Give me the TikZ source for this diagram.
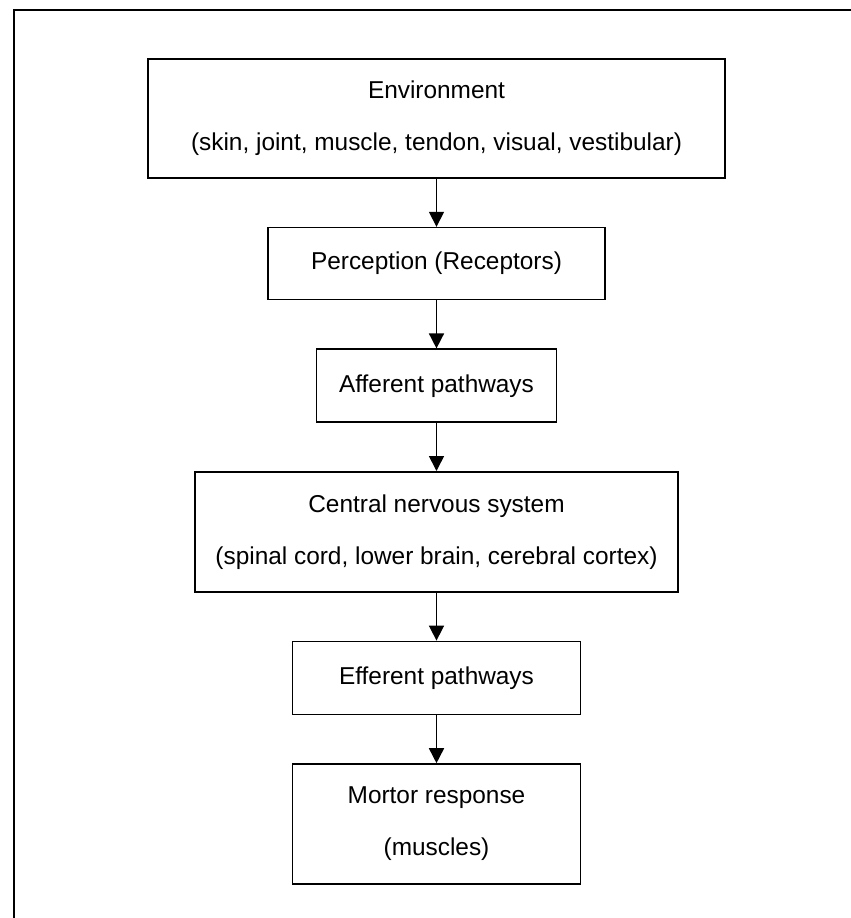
\documentclass[tikz,border=0pt]{standalone}
\usepackage{fontspec}
\setmainfont{Liberation Sans}
\usetikzlibrary{arrows.meta, positioning}
\tikzstyle{block} = [draw, rectangle, line width=0.8pt, inner sep=0pt, align=center, font=\fontsize{12.2}{26}\selectfont]
\tikzstyle{path} = [-{Triangle[length=7.5pt, width=7.5pt]}, line width=0.8pt]
\tikzstyle{frame} = [line width=1.3pt]

\begin{document}
\begin{tikzpicture}[x=0.5pt, y=-0.5pt, node distance=24pt]
    \useasboundingbox (0, 0) rectangle (851, 918);

    % Frame.
    \draw [frame] (14, 918) -- (14, 10) -- (851, 10);

    % Boxes.
    \node (node 1) [block, minimum width=288.5pt, minimum height=59.5pt] at (436.5, 118.5)
        {Environment\\(skin, joint, muscle, tendon, visual, vestibular)};
    \node (node 2) [block, minimum width=168.5pt, minimum height=36pt, below=of node 1]
        {Perception (Receptors)};
    \node (node 3) [block, minimum width=120pt, minimum height=36.5pt, below=of node 2]
        {Afferent pathways};
    \node (node 4) [block, minimum width=241.5pt, minimum height=60pt, below=of node 3]
        {Central nervous system\\(spinal cord, lower brain, cerebral cortex)};
    \node (node 5) [block, minimum width=144pt, minimum height=36.5pt, below=of node 4]
        {Efferent pathways};
    \node (node 6) [block, minimum width=144pt, minimum height=60pt, below=of node 5]
        {Mortor response\\(muscles)};

    % Arrows.
    \foreach \i in {1, ..., 5} {
        \pgfmathtruncatemacro{\j}{\i + 1}
        \draw [path] (node \i) -- (node \j);
    }
\end{tikzpicture}
\end{document}
